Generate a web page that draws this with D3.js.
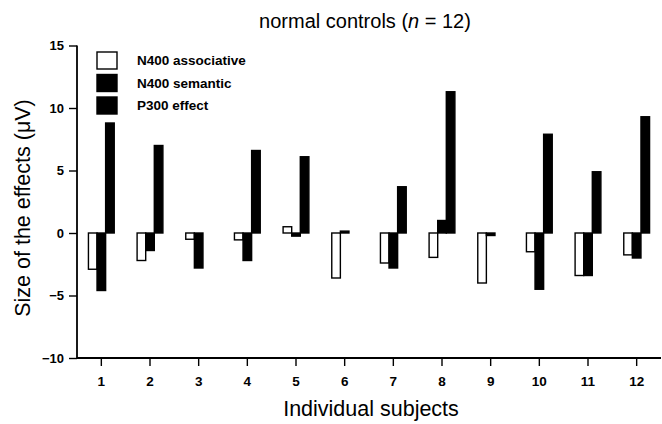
<!DOCTYPE html>
<html>
<head>
<meta charset="utf-8">
<script src="https://cdn.jsdelivr.net/npm/d3@7"></script>
<style>
  html, body { margin: 0; padding: 0; background: #fff; }
  svg { display: block; }
  text { font-family: "Liberation Sans", Arial, Helvetica, sans-serif; fill: #000; }
</style>
</head>
<body>
<svg id="chart" width="662" height="424"></svg>
<script>
const subjects = ["1","2","3","4","5","6","7","8","9","10","11","12"];
const seriesNames = ["N400 associative", "N400 semantic", "P300 effect"];
const n400Associative = [-2.9, -2.2, -0.5, -0.55, 0.5, -3.6, -2.4, -1.95, -4.0, -1.5, -3.4, -1.75];
const n400Semantic   = [-4.6, -1.4, -2.8, -2.2, -0.25, 0.15, -2.8, 1.0, -0.2, -4.5, -3.4, -2.0];
const p300Effect     = [8.8, 7.0, 0, 6.6, 6.1, 0, 3.7, 11.3, 0, 7.9, 4.9, 9.3];
const yTicks = [15, 10, 5, 0, -5, -10];
const titleText = "normal controls (";
const xTitle = "Individual subjects";
const yTitle = "Size of the effects (\u03BCV)";

const series = [n400Associative, n400Semantic, p300Effect];
const fills = ["#fff", "#000", "#000"];

const svg = d3.select("#chart");
const mLeft = 77, mRight = 661, mTop = 45.5, mBottom = 358;

const x = d3.scaleBand().domain(subjects).range([mLeft, mRight]).padding(0);
const inner = d3.scaleBand().domain(seriesNames).range([-12.9, 12.9]).padding(0);
const y = d3.scaleLinear().domain([-10, 15]).range([mBottom, mTop]);

// bars
const g = svg.append("g");
series.forEach((vals, si) => {
  g.selectAll(null).data(vals.map((v, i) => ({v, s: subjects[i]})))
    .enter().append("rect")
    .attr("x", d => x(d.s) + x.bandwidth() / 2 + inner(seriesNames[si]))
    .attr("width", inner.bandwidth())
    .attr("y", d => y(Math.max(0, d.v)))
    .attr("height", d => Math.abs(y(d.v) - y(0)))
    .attr("fill", fills[si])
    .attr("stroke", "#000")
    .attr("stroke-width", 1.4);
});

// y axis
const yAxis = d3.axisLeft(y).tickValues(yTicks).tickSize(8).tickPadding(5).tickFormat(d3.format("d"));
const ya = svg.append("g").attr("transform", `translate(${mLeft},0)`).call(yAxis);
ya.select(".domain").attr("d", `M0,${y(15)}V${mBottom}`).attr("stroke-width", 1.8);
ya.selectAll(".tick line").attr("stroke-width", 1.4);
ya.selectAll(".tick text").attr("font-size", 13).attr("font-weight", "bold")
  .attr("font-family", "Liberation Sans, Arial, sans-serif");

// x axis
const xAxis = d3.axisBottom(x).tickSize(8).tickPadding(10);
const xa = svg.append("g").attr("transform", `translate(0,${mBottom})`).call(xAxis);
xa.select(".domain").attr("d", `M${mLeft},0H${mRight}`).attr("stroke-width", 2);
xa.selectAll(".tick line").attr("stroke-width", 1.4);
xa.selectAll(".tick text").attr("font-size", 13.5).attr("font-weight", "bold")
  .attr("font-family", "Liberation Sans, Arial, sans-serif");

// title
const t = svg.append("text").attr("x", 365).attr("y", 28).attr("text-anchor", "middle")
  .attr("font-size", 20);
t.append("tspan").text(titleText);
t.append("tspan").attr("font-style", "italic").text("n");
t.append("tspan").text(" = 12)");

// axis titles
svg.append("text").attr("x", 371).attr("y", 416).attr("text-anchor", "middle")
  .attr("font-size", 21.5).text(xTitle);
svg.append("text").attr("transform", "translate(30,208) rotate(-90)")
  .attr("text-anchor", "middle").attr("font-size", 21.5).text(yTitle);

// legend
const lg = svg.append("g");
seriesNames.forEach((name, i) => {
  const yy = 52 + i * 22.5;
  lg.append("rect").attr("x", 97).attr("y", yy).attr("width", 20).attr("height", 17)
    .attr("fill", fills[i]).attr("stroke", "#000").attr("stroke-width", 1.4);
  lg.append("text").attr("x", 137).attr("y", yy + 13).attr("font-size", 13.5)
    .attr("font-weight", "bold").text(name);
});
</script>
</body>
</html>
